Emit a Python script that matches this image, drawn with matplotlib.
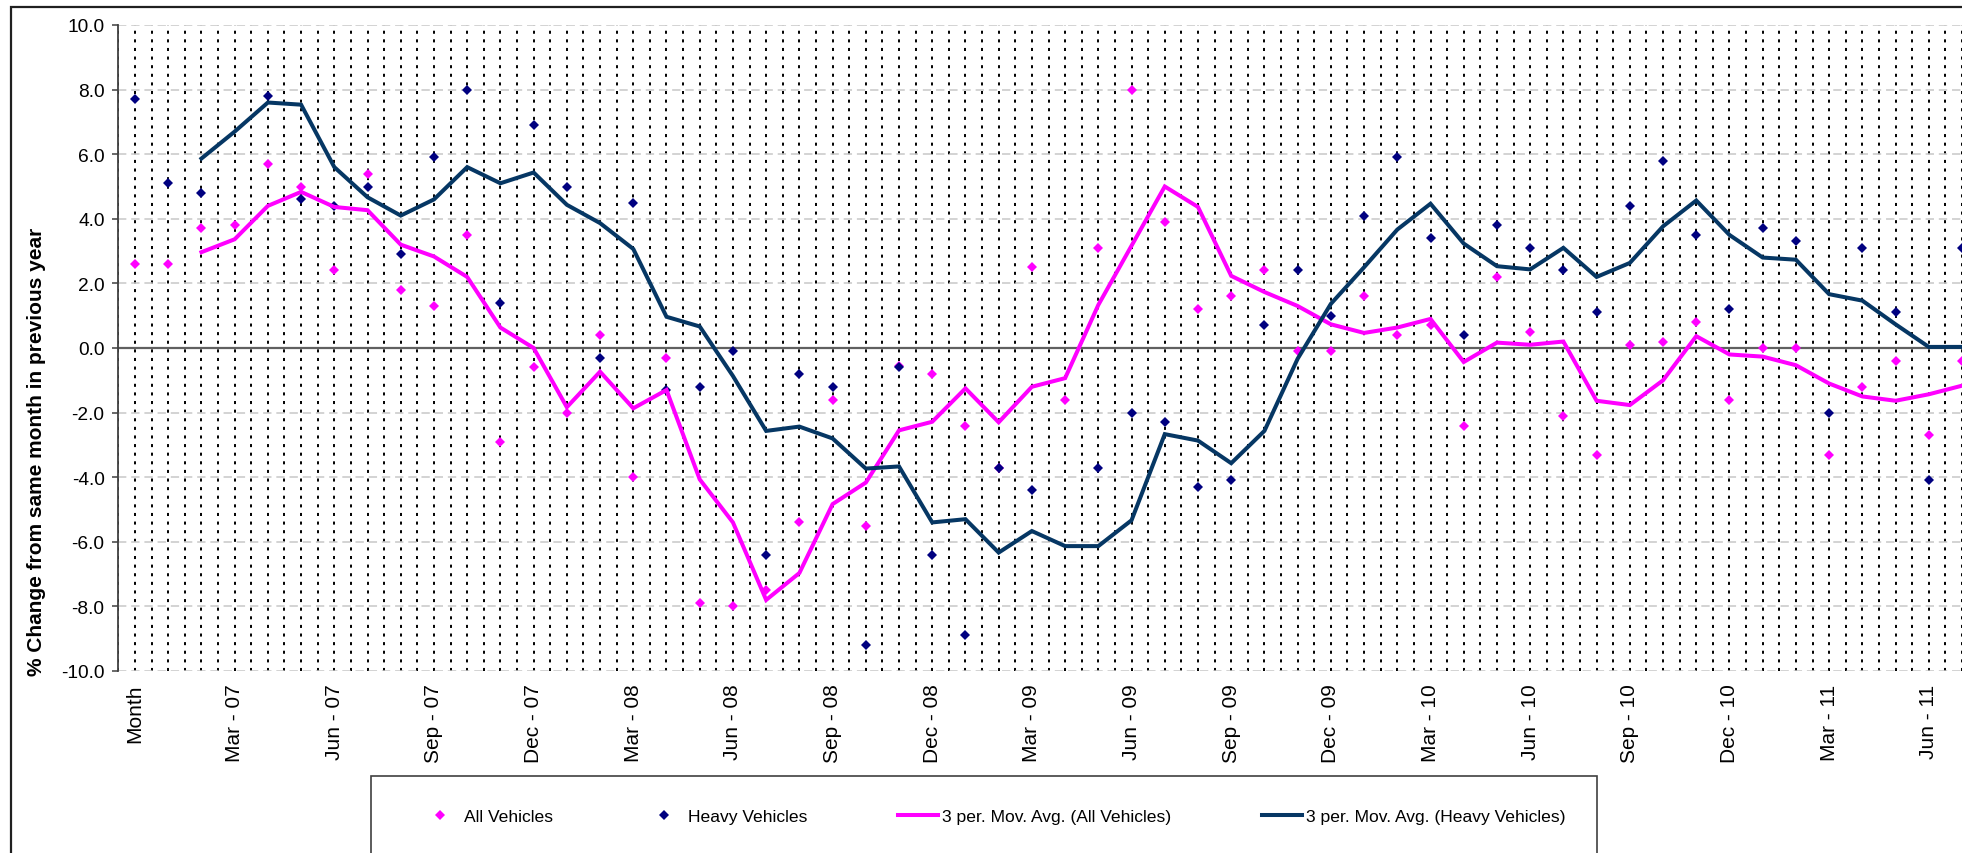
import matplotlib
matplotlib.use("Agg")
import matplotlib.pyplot as plt
import numpy as np
import pandas as pd
from matplotlib.patches import Rectangle
from matplotlib.lines import Line2D
from matplotlib.ticker import MultipleLocator, FixedLocator

plt.rcParams['font.family'] = ['Liberation Sans', 'DejaVu Sans']
plt.rcParams['axes.unicode_minus'] = False
plt.rcParams['lines.scale_dashes'] = False

categories = [
    "Month",
    "Jan - 07", "Feb - 07", "Mar - 07", "Apr - 07", "May - 07", "Jun - 07",
    "Jul - 07", "Aug - 07", "Sep - 07", "Oct - 07", "Nov - 07", "Dec - 07",
    "Jan - 08", "Feb - 08", "Mar - 08", "Apr - 08", "May - 08", "Jun - 08",
    "Jul - 08", "Aug - 08", "Sep - 08", "Oct - 08", "Nov - 08", "Dec - 08",
    "Jan - 09", "Feb - 09", "Mar - 09", "Apr - 09", "May - 09", "Jun - 09",
    "Jul - 09", "Aug - 09", "Sep - 09", "Oct - 09", "Nov - 09", "Dec - 09",
    "Jan - 10", "Feb - 10", "Mar - 10", "Apr - 10", "May - 10", "Jun - 10",
    "Jul - 10", "Aug - 10", "Sep - 10", "Oct - 10", "Nov - 10", "Dec - 10",
    "Jan - 11", "Feb - 11", "Mar - 11", "Apr - 11", "May - 11", "Jun - 11",
    "Jul - 11",
]

all_vehicles = [
    2.6, 2.6, 3.7, 3.8, 5.7, 5.0, 2.4, 5.4, 1.8, 1.3, 3.5, -2.9, -0.6,
    -2.0, 0.4, -4.0, -0.3, -7.9, -8.0, -7.5, -5.4, -1.6, -5.5, -0.55,
    -0.8, -2.4, -3.7, 2.5, -1.6, 3.1, 8.0, 3.9, 1.2, 1.6, 2.4, -0.1,
    -0.1, 1.6, 0.4, 0.7, -2.4, 2.2, 0.5, -2.1, -3.3, 0.1, 0.2, 0.8,
    -1.6, 0.0, 0.0, -3.3, -1.2, -0.4, -2.7, -0.4,
]

heavy_vehicles = [
    7.7, 5.1, 4.8, 10.2, 7.8, 4.6, 4.4, 5.0, 2.9, 5.9, 8.0, 1.4, 6.9,
    5.0, -0.3, 4.5, -1.3, -1.2, -0.1, -6.4, -0.8, -1.2, -9.2, -0.6,
    -6.4, -8.9, -3.7, -4.4, -10.3, -3.7, -2.0, -2.3, -4.3, -4.1, 0.7,
    2.4, 1.0, 4.1, 5.9, 3.4, 0.4, 3.8, 3.1, 2.4, 1.1, 4.4, 5.8, 3.5,
    1.2, 3.7, 3.3, -2.0, 3.1, 1.1, -4.1, 3.1,
]

label_every = 3
y_ticks = [-10, -8, -6, -4, -2, 0, 2, 4, 6, 8, 10]

series_labels = ["All Vehicles", "Heavy Vehicles",
                 "3 per. Mov. Avg. (All Vehicles)",
                 "3 per. Mov. Avg. (Heavy Vehicles)"]

PINK = "#FF00FF"
NAVY_DOT = "#000080"
NAVY_LINE = "#063764"

W, H = 1962, 854
fig = plt.figure(figsize=(W / 100, H / 100), dpi=100)

ax_left, ax_right, ax_top, ax_bottom = 118.4, 1962.0, 26.0, 672.0
ax = fig.add_axes([ax_left / W, 1 - ax_bottom / H,
                   (ax_right - ax_left) / W, (ax_bottom - ax_top) / H])

x = np.arange(len(categories))
ma_all = pd.Series(all_vehicles).rolling(3).mean()
ma_heavy = pd.Series(heavy_vehicles).rolling(3).mean()

ax.set_xlim(-0.5, 55.0)
ax.set_ylim(-10, 10)

# gridlines
ax.xaxis.set_minor_locator(MultipleLocator(0.5))
ax.xaxis.set_major_locator(FixedLocator(x[::label_every]))
ax.set_xticklabels(categories[::label_every], rotation=90, fontsize=15)
ax.grid(which='both', axis='x', color='black', linewidth=1.4,
        linestyle=(0, (2.2, 4.0)), zorder=1)
ax.set_yticks(y_ticks)
ax.set_yticklabels([f"{v:.1f}" for v in y_ticks], fontsize=13.8)
ax.grid(which='major', axis='y', color='#C8C8C8', linewidth=1.1,
        linestyle=(0, (6, 3.5)), zorder=0.9)
ax.axhline(0, color='#606060', linewidth=1.6, zorder=2)
ax.set_axisbelow(True)

ax.tick_params(axis='x', which='both', length=0, pad=9, colors='black')
ax.tick_params(axis='y', which='major', direction='out', length=4,
               width=1.1, color='#404040', pad=6, labelcolor='black')
ax.tick_params(axis='y', which='minor', length=0)
for s in ['top', 'right', 'bottom']:
    ax.spines[s].set_visible(False)
ax.spines['left'].set_color('#404040')
ax.spines['left'].set_linewidth(1.3)

# data
ax.plot(x, all_vehicles, linestyle='None', marker='D', markersize=4.8,
        color=PINK, markeredgewidth=0, zorder=3)
ax.plot(x, heavy_vehicles, linestyle='None', marker='D', markersize=4.8,
        color=NAVY_DOT, markeredgewidth=0, zorder=4)
ax.plot(x, ma_all, color=PINK, linewidth=2.9, zorder=5,
        solid_joinstyle='miter')
ax.plot(x, ma_heavy, color=NAVY_LINE, linewidth=2.9, zorder=6,
        solid_joinstyle='miter')

fig.text(37 / W, 1 - 452 / H, "% Change from same month in previous year",
         rotation=90, ha='center', va='center', fontsize=15,
         fontweight='bold')

# outer chart frame
fig.patches.append(Rectangle((11 / W, -0.2), 1.2, 1 - 8 / H + 0.2,
                             transform=fig.transFigure, fill=False,
                             edgecolor='#202020', linewidth=1.6))

# legend box
fig.patches.append(Rectangle((371 / W, 1 - 862 / H), (1597 - 371) / W,
                             (862 - 777) / H, transform=fig.transFigure,
                             fill=False, edgecolor='#404040', linewidth=1.2))

handles = [
    Line2D([], [], linestyle='None', marker='D', markersize=4.8,
           color=PINK, markeredgewidth=0),
    Line2D([], [], linestyle='None', marker='D', markersize=4.8,
           color=NAVY_DOT, markeredgewidth=0),
    Line2D([], [], color=PINK, linewidth=2.9),
    Line2D([], [], color=NAVY_LINE, linewidth=2.9),
]
fig.legend(handles, series_labels, ncol=4, loc='center left',
           bbox_to_anchor=(420 / W, 1 - 817 / H), frameon=False,
           fontsize=12.6, handlelength=2.3, handletextpad=0.2,
           columnspacing=5.2, borderaxespad=0, borderpad=0)

fig.savefig("out.png", dpi=100)
